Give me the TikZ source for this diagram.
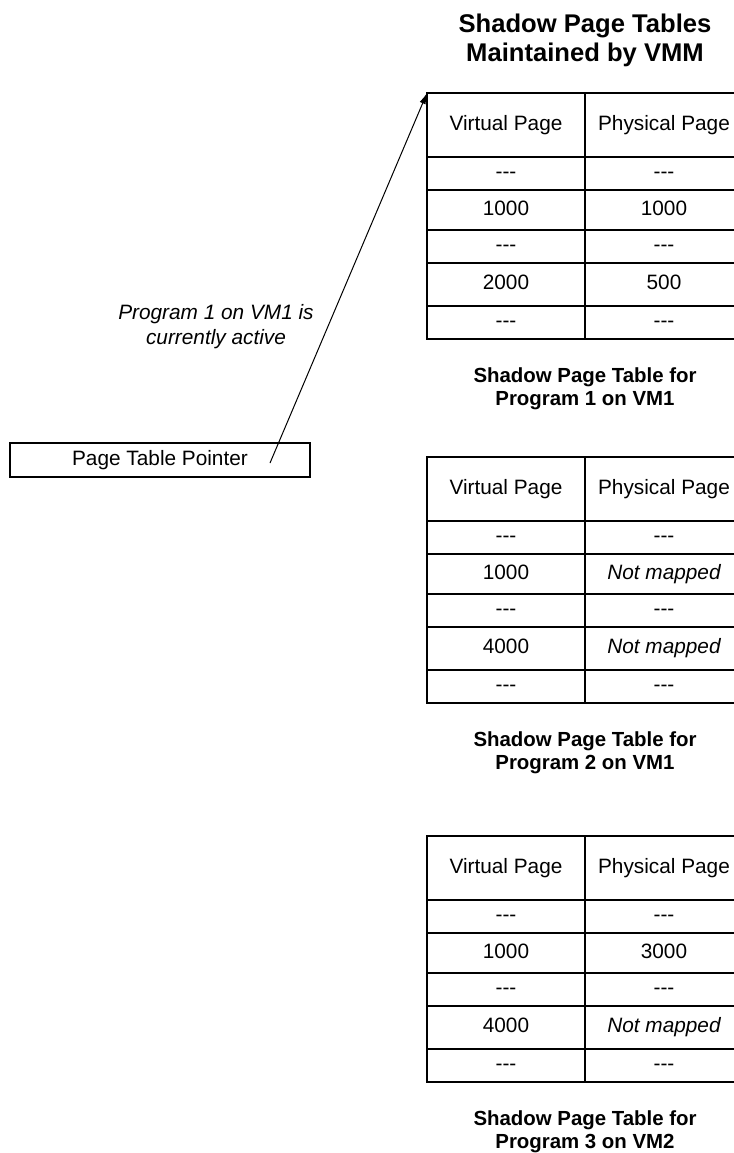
\documentclass[tikz,border=0pt]{standalone}
\usepackage{fontspec}
\setmainfont{Liberation Sans}
\usepackage{tikz}
\usetikzlibrary{arrows.meta, positioning}

\begin{document}
\begin{tikzpicture}[
  x=0.5pt, y=-0.5pt,
  cell/.style={rectangle, draw, line width=0.6pt, minimum width=79pt, inner sep=2pt, outer sep=0pt, text height=7.6pt, text depth=2.2pt, font=\fontsize{10.4}{12.5}\selectfont},
  outer/.style={line width=1.1pt, line join=miter},
  title/.style={align=center, inner sep=0pt, font=\fontsize{12.8}{14.5}\selectfont\bfseries},
  caption/.style={align=center, inner sep=0pt, font=\fontsize{10.2}{11.6}\selectfont\bfseries},
  ptrbox/.style={rectangle, draw, line width=0.8pt, minimum width=150pt, minimum height=17pt, inner sep=0pt, font=\fontsize{10.4}{12.5}\selectfont},
  note/.style={align=center, inner sep=0pt, font=\fontsize{10.4}{12.5}\selectfont\itshape},
  ptrarrow/.style={-{Latex[length=5.5pt,width=3.2pt]}, line width=0.5pt},
]
\useasboundingbox (0,0) rectangle (734,1153);
\clip (0,0) rectangle (734,1153);

% ── SHADOW PAGE TABLES (right column, cut by the page edge) ──
\foreach \t/\top/\vd/\pb/\pd/\vm in {1/93/2000/1000/500/1, 2/457/4000/{\itshape Not mapped}/{\itshape Not mapped}/1, 3/836/4000/3000/{\itshape Not mapped}/2} {
  \node[cell, minimum height=32pt] (v\t-0) at (506,{\top+32}) {Virtual Page};
  \node[cell, minimum height=32pt, right=0pt of v\t-0] (p\t-0) {Physical Page};
  \node[cell, minimum height=16.5pt, below=0pt of v\t-0] (v\t-1) {-{}-{}-};
  \node[cell, minimum height=16.5pt, right=0pt of v\t-1] (p\t-1) {-{}-{}-};
  \node[cell, minimum height=20pt, below=0pt of v\t-1] (v\t-2) {1000};
  \node[cell, minimum height=20pt, right=0pt of v\t-2] (p\t-2) {\pb};
  \node[cell, minimum height=16.5pt, below=0pt of v\t-2] (v\t-3) {-{}-{}-};
  \node[cell, minimum height=16.5pt, right=0pt of v\t-3] (p\t-3) {-{}-{}-};
  \node[cell, minimum height=21.5pt, below=0pt of v\t-3] (v\t-4) {\vd};
  \node[cell, minimum height=21.5pt, right=0pt of v\t-4] (p\t-4) {\pd};
  \node[cell, minimum height=16.5pt, below=0pt of v\t-4] (v\t-5) {-{}-{}-};
  \node[cell, minimum height=16.5pt, right=0pt of v\t-5] (p\t-5) {-{}-{}-};
  \draw[outer] (p\t-0.north east) -- (v\t-0.north west) -- (v\t-5.south west) -- (p\t-5.south east);
  \node[caption, below=14pt of v\t-5.south east] (cap\t) {Shadow Page Table for\\Program \t\ on VM\vm};
}

\node[title, above=13pt of v1-0.north east] (title) {Shadow Page Tables\\Maintained by VMM};

% ── PAGE TABLE POINTER (left) ──
\node[ptrbox] (ptr) at (160,460) {Page Table Pointer};
\coordinate (ptrsrc) at ([xshift=55pt,yshift=-1.5pt]ptr.center);
\node[note] (activenote) at (216,327) {Program 1 on VM1 is\\currently active};

% Pointer -> active shadow table
\draw[ptrarrow] (ptrsrc) -- (v1-0.north west);

\end{tikzpicture}
\end{document}
